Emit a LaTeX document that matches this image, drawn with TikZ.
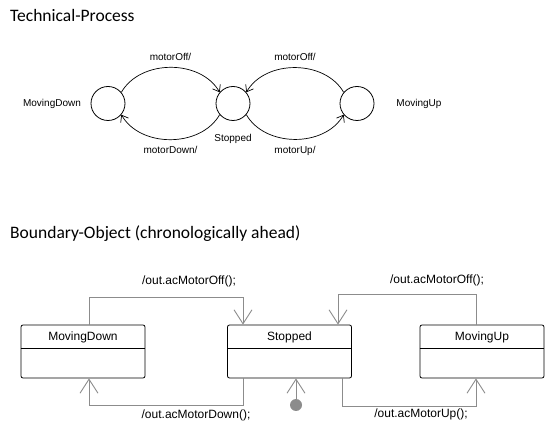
\documentclass[tikz,border=0pt]{standalone}
\usepackage{fontspec}
\setmainfont{Carlito}
\newfontfamily\diagfont{Liberation Sans}
\usetikzlibrary{arrows.meta}
\definecolor{transgray}{RGB}{140,140,140}
\begin{document}
\begin{tikzpicture}[x=1pt,y=1pt,
  state/.style={circle,draw,line width=0.8pt,minimum size=34pt,inner sep=0pt},
  small/.style={font=\diagfont\fontsize{10}{12}\selectfont},
  move/.style={draw,line width=0.7pt,-{Straight Barb[length=6pt,width=9pt]}},
  statebox/.style={draw,line width=0.8pt,rounded corners=2pt,minimum width=124pt,minimum height=53pt,inner sep=0pt},
  boxtext/.style={font=\diagfont\fontsize{12}{14}\selectfont},
  trans/.style={draw=transgray,line width=0.9pt,-{Straight Barb[length=14pt,width=18pt]}},
  heading/.style={anchor=west,inner sep=0pt,font=\fontsize{17.5}{20}\selectfont}]
\useasboundingbox (0,0) rectangle (560,442);
\node [heading] (tp) at (10,427) {Technical-Process};
\node [state] (md) at (108,338.5) {};
\node [state] (st) at (233,338.5) {};
\node [state] (mu) at (357,338.5) {};
\node [small] (mdl) at (52,338.5) {MovingDown};
\node [small] (stl) at (233,303) {Stopped};
\node [small] (mul) at (419,338.5) {MovingUp};
\draw [move] (md.40) to[out=60,in=120] node[small,above=3pt] (off1) {motorOff/} (st.140);
\draw [move] (st.220) to[out=240,in=300] node[small,below=3pt] (down1) {motorDown/} (md.320);
\draw [move] (mu.140) to[out=120,in=60] node[small,above=3pt] (off2) {motorOff/} (st.40);
\draw [move] (st.320) to[out=300,in=240] node[small,below=3pt] (up1) {motorUp/} (mu.220);

\node [heading] (bo) at (10,208) {Boundary-Object (chronologically ahead)};
\node [statebox] (mdbox) at (83,90.5) {};
\node [statebox] (stbox) at (289.5,90.5) {};
\node [statebox] (mubox) at (482,90.5) {};
\node [boxtext] (mdname) at (83,105) {MovingDown};
\node [boxtext] (stname) at (289.5,105) {Stopped};
\node [boxtext] (muname) at (482,105) {MovingUp};
\foreach \b in {mdbox,stbox,mubox}
  \draw [line width=0.8pt] ([yshift=-24pt]\b.north west) -- ([yshift=-24pt]\b.north east);
\fill [transgray] (296,37) circle (6pt) coordinate (init);
\draw [trans] ([xshift=6pt]mdbox.north) -- ++(0,27) -| ([xshift=-46.5pt]stbox.north);
\draw [trans] ([xshift=-46.5pt]stbox.south) -- ++(0,-27) -| ([xshift=6pt]mdbox.south);
\draw [trans] ([xshift=-6pt]mubox.north) -- ++(0,30) -| ([xshift=48.5pt]stbox.north);
\draw [trans] ([xshift=52.5pt]stbox.south) -- ++(0,-28) -| ([xshift=-6pt]mubox.south);
\draw [trans] (init) -- (init |- stbox.south);
\node [boxtext] (offl) at (189,161) {/out.acMotorOff();};
\node [boxtext] (offr) at (437,162) {/out.acMotorOff();};
\node [boxtext] (downl) at (196,27) {/out.acMotorDown();};
\node [boxtext] (upr) at (421,28) {/out.acMotorUp();};
\end{tikzpicture}
\end{document}
